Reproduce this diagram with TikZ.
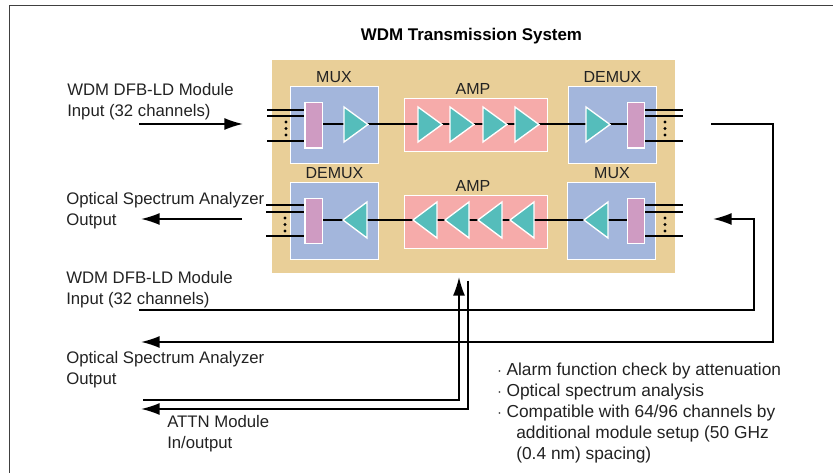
\documentclass[tikz,border=0pt]{standalone}
\usepackage{fontspec}
\setmainfont{Liberation Sans}
\usetikzlibrary{arrows.meta}
\definecolor{light_tan}{HTML}{E9CF98}
\definecolor{light_blue}{HTML}{A3B6DC}
\definecolor{light_pink}{HTML}{F6ABAA}
\definecolor{light_purple}{HTML}{CF9BC2}
\definecolor{light_teal}{HTML}{55BDBB}
\definecolor{dark_text}{HTML}{222222}

\begin{document}
\begin{tikzpicture}[
                        x=0.75pt, y=-0.75pt,
                        >={Latex[length=14pt,width=9pt]},
                        unit/.style={draw=white, fill=light_blue, line width=1pt, minimum width=66pt, minimum height=58pt, inner sep=0pt},
                        amp/.style={draw=white, fill=light_pink, line width=1pt, minimum width=107pt, minimum height=40pt, inner sep=0pt},
                        bar/.style={draw=white, fill=light_purple, line width=1pt, minimum width=13pt, minimum height=34pt, inner sep=0pt},
                        tri/.style={draw=white, fill=light_teal, line width=1pt, line join=miter},
                        fibre/.style={line width=1.2pt},
                        signal/.style={line width=1.2pt},
                        label/.style={font=\fontsize{12.55pt}{15.6pt}\selectfont, text=dark_text, align=left, anchor=north west, inner sep=0pt},
                        title/.style={font=\fontsize{12pt}{14pt}\selectfont, text=dark_text, inner sep=0pt},
                    ]
                        \useasboundingbox (0,0) rectangle (833,473);

                        % frame
                        \draw[line width=0.9pt, draw=black!75] (9.5,473) -- (9.5,5.5) -- (833,5.5);

                        % system
                        \node[fill=light_tan, minimum width=302.25pt, minimum height=159.75pt, inner sep=0pt] (system) at (473.5,166.5) {};
                        \node[font=\bfseries\fontsize{12.7pt}{15pt}\selectfont, inner sep=0pt] (system_label) at (471.5,36) {WDM Transmission System};

                        % boxes
                        \node[unit] (mux_top) at (334.5,125) {};
                        \node[unit] (demux_low) at (334.5,221) {};
                        \node[unit] (demux_top) at (612.5,125) {};
                        \node[unit] (mux_low) at (611.5,221) {};
                        \node[amp] (amp_top) at (476,125) {};
                        \node[amp] (amp_low) at (476,222) {};
                        \node[bar] (bar_tl) at (313.5,125.5) {};
                        \node[bar] (bar_ll) at (313.5,221) {};
                        \node[bar] (bar_tr) at (636,125.5) {};
                        \node[bar] (bar_lr) at (636,221) {};

                        % box labels
                        \node[title] (mux_top_label) at (334,77) {MUX};
                        \node[title] (demux_low_label) at (334.5,173) {DEMUX};
                        \node[title] (demux_top_label) at (612.5,77) {DEMUX};
                        \node[title] (mux_low_label) at (612,173) {MUX};
                        \node[title] (amp_top_label) at (473,89) {AMP};
                        \node[title] (amp_low_label) at (473,186) {AMP};

                        % centre lines
                        \draw[fibre] (bar_tl.east |- 0,124) -- (amp_top.east |- 0,124) -- (bar_tr.west |- 0,124);
                        \draw[fibre] (bar_ll.east |- 0,220) -- (amp_low.east |- 0,220) -- (bar_lr.west |- 0,220);

                        % triangles
                        \foreach \x in {344,418,450,483,515,586} {
                            \draw[tri] (\x,107) -- (\x+24,124.5) -- (\x,142) -- cycle;
                        }
                        \foreach \x in {343,413,445,478,510,584} {
                            \draw[tri] (\x+24,202) -- (\x,220) -- (\x+24,238) -- cycle;
                        }

                        % channels
                        \foreach \y in {110,116,141} {
                            \draw[fibre] (267,\y) -- (bar_tl.west |- 0,\y);
                            \draw[fibre] (bar_tr.east |- 0,\y) -- (683,\y);
                        }
                        \foreach \y in {205,212,236} {
                            \draw[fibre] (266,\y) -- (bar_ll.west |- 0,\y);
                            \draw[fibre] (bar_lr.east |- 0,\y) -- (683,\y);
                        }
                        \foreach \y in {122,128.5,135} {
                            \fill (286,\y) circle (1.2pt);
                            \fill (665,\y) circle (1.2pt);
                        }
                        \foreach \y in {218,224.5,231} {
                            \fill (285,\y) circle (1.2pt);
                            \fill (665,\y) circle (1.2pt);
                        }

                        % labels
                        \node[label] (wdm_in_a) at (67,83.5) {WDM DFB-LD Module\\Input (32 channels)};
                        \node[label] (osa_out_a) at (66,192) {Optical Spectrum Analyzer\\Output};
                        \node[label] (wdm_in_b) at (66,271) {WDM DFB-LD Module\\Input (32 channels)};
                        \node[label] (osa_out_b) at (66,351) {Optical Spectrum Analyzer\\Output};
                        \node[label] (attn) at (167,415) {ATTN Module\\In/output};
                        \node[label, font=\fontsize{13pt}{15.6pt}\selectfont] (notes) at (497,363) {$\cdot$ Alarm function check by attenuation\\$\cdot$ Optical spectrum analysis\\$\cdot$ Compatible with 64/96 channels by\\\hspace{1.1em}additional module setup (50 GHz\\\hspace{1.1em}(0.4 nm) spacing)};

                        % connections
                        \coordinate (in_a_start) at (139,124);
                        \coordinate (in_a_end) at (243,124);
                        \coordinate (out_a_start) at (242,219);
                        \coordinate (out_a_end) at (141,219);
                        \coordinate (loop_out_start) at (711,124);
                        \coordinate (loop_out_corner) at (773,124);
                        \coordinate (loop_out_low) at (773,342);
                        \coordinate (loop_out_end) at (141,342);
                        \coordinate (loop_in_start) at (139,310);
                        \coordinate (loop_in_low) at (754,310);
                        \coordinate (loop_in_corner) at (754,219);
                        \coordinate (loop_in_end) at (713,219);
                        \coordinate (attn_in_start) at (143,400);
                        \coordinate (attn_in_corner) at (459,400);
                        \coordinate (attn_in_end) at (459,277);
                        \coordinate (attn_out_start) at (468,281);
                        \coordinate (attn_out_corner) at (468,409);
                        \coordinate (attn_out_end) at (141,409);
                        \draw[signal, ->] (in_a_start) -- (in_a_end);
                        \draw[signal, ->] (out_a_start) -- (out_a_end);
                        \draw[signal, ->] (loop_out_start) -- (loop_out_corner) -- (loop_out_low) -- (loop_out_end);
                        \draw[signal, ->] (loop_in_start) -- (loop_in_low) -- (loop_in_corner) -- (loop_in_end);
                        \draw[signal, ->] (attn_in_start) -- (attn_in_corner) -- (attn_in_end);
                        \draw[signal, ->] (attn_out_start) -- (attn_out_corner) -- (attn_out_end);
                    \end{tikzpicture}
\end{document}
